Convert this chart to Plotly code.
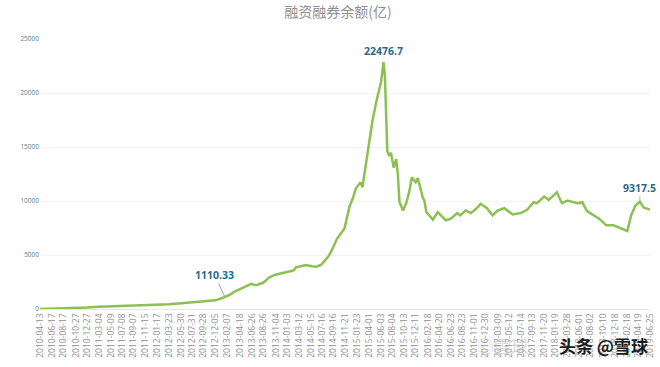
import plotly.graph_objects as go

title_text = "融资融券余额(亿)"

tick_dates = [
    "2010-04-13", "2010-06-17", "2010-08-17", "2010-10-27", "2010-12-27",
    "2011-03-04", "2011-05-09", "2011-07-08", "2011-09-07", "2011-11-15",
    "2012-01-17", "2012-03-23", "2012-05-30", "2012-07-31", "2012-09-28",
    "2012-12-05", "2013-02-07", "2013-04-18", "2013-06-26", "2013-08-26",
    "2013-11-04", "2014-01-03", "2014-03-12", "2014-05-15", "2014-07-16",
    "2014-09-16", "2014-11-21", "2015-01-23", "2015-04-01", "2015-06-03",
    "2015-08-04", "2015-10-13", "2015-12-11", "2016-02-18", "2016-04-20",
    "2016-06-23", "2016-08-23", "2016-11-01", "2016-12-30", "2017-03-09",
    "2017-05-12", "2017-07-14", "2017-09-13", "2017-11-20", "2018-01-19",
    "2018-03-28", "2018-06-01", "2018-08-02", "2018-10-10", "2018-12-18",
    "2019-02-18", "2019-04-19", "2019-06-25",
]

y_ticks = [0, 5000, 10000, 15000, 20000, 25000]
y_tick_text = ["0", "5000", "10000", "15000", "20000", "25000"]

dates = [
    "2010-04-13", "2010-06-17", "2010-08-17", "2010-10-27", "2010-12-27",
    "2011-03-04", "2011-05-09", "2011-07-08", "2011-09-07", "2011-11-15",
    "2012-01-17", "2012-03-23", "2012-05-30", "2012-07-31", "2012-09-28",
    "2012-12-05", "2013-01-25", "2013-02-20", "2013-03-20", "2013-04-18",
    "2013-05-20", "2013-06-20", "2013-07-08", "2013-07-25", "2013-08-26",
    "2013-09-25", "2013-10-25", "2013-12-25", "2014-01-20", "2014-02-10",
    "2014-02-20", "2014-03-25", "2014-04-15", "2014-05-20", "2014-06-15",
    "2014-07-10", "2014-07-30", "2014-08-20", "2014-09-05", "2014-10-05",
    "2014-11-15", "2014-12-12", "2014-12-31", "2015-01-16", "2015-01-28",
    "2015-02-12", "2015-02-22", "2015-03-08", "2015-04-01", "2015-04-18",
    "2015-05-10", "2015-06-05", "2015-06-18", "2015-06-26", "2015-07-09",
    "2015-07-19", "2015-07-29", "2015-08-13", "2015-08-27", "2015-09-05",
    "2015-09-14", "2015-10-04", "2015-10-23", "2015-11-08", "2015-11-21",
    "2015-12-12", "2015-12-24", "2016-01-20", "2016-01-29", "2016-02-09",
    "2016-02-18", "2016-03-16", "2016-04-12", "2016-05-27", "2016-06-23",
    "2016-07-28", "2016-08-15", "2016-09-12", "2016-10-12", "2016-11-09",
    "2016-12-04", "2017-01-08", "2017-02-08", "2017-03-09", "2017-04-14",
    "2017-05-30", "2017-07-13", "2017-08-17", "2017-09-22", "2017-10-11",
    "2017-11-19", "2017-12-14", "2018-01-28", "2018-02-25", "2018-03-27",
    "2018-05-22", "2018-06-17", "2018-07-13", "2018-09-18", "2018-10-27",
    "2018-12-06", "2019-02-06", "2019-02-20", "2019-03-13", "2019-04-06",
    "2019-04-30", "2019-05-22", "2019-06-21", "2019-06-25",
]

balance = [
    10, 30, 60, 90, 130,
    200, 240, 280, 320, 340,
    380, 450, 540, 640, 700,
    800, 1110, 1300, 1600, 1850,
    2050, 2330, 2230, 2250, 2450,
    2900, 3150, 3350, 3500, 3600,
    3860, 3980, 4070, 3950, 3920,
    4100, 4450, 4900, 5400, 6500,
    7450, 9430, 10250, 11120, 11420,
    11730, 11270, 12800, 15250, 17400,
    19240, 21070, 22850, 21500, 14640,
    14180, 14480, 13100, 13880, 12500,
    9890, 9125, 9890, 10960, 12190,
    11730, 12130, 10350, 10040, 8970,
    8820, 8270, 8970, 8210, 8360,
    8880, 8670, 9125, 8880, 9280,
    9740, 9340, 8670, 9125, 9340,
    8760, 8880, 9190, 9890, 9800,
    10410, 10110, 10810, 9800, 10040,
    9800, 9890, 9060, 8360, 7750,
    7750, 7290, 7220, 8670, 9585,
    9950, 9390, 9230, 9200,
]

# annotated points: (index in series, label text)
label_points = [(52, "22476.7"), (16, "1110.33"), (105, "9317.5")]

watermark_text = "头条 @雪球"
logo_text = "◎雪球"

fig = go.Figure()
fig.add_trace(go.Scatter(
    x=dates, y=balance, mode="lines",
    line=dict(color="#8cc152", width=2.5),
    hoverinfo="x+y", showlegend=False,
))

ann_font = dict(family="Open Sans, Noto Sans, sans-serif", size=10.5, color="#2b6a8c")
i, t = label_points[0]
fig.add_annotation(x=dates[i], y=balance[i], text="<b>%s</b>" % t, showarrow=False,
                   yanchor="bottom", yshift=2, font=ann_font)
i, t = label_points[1]
fig.add_annotation(x=dates[i], y=balance[i], text="<b>%s</b>" % t, showarrow=True,
                   arrowhead=0, arrowwidth=1, arrowcolor="#a0a0a0",
                   ax=-10, ay=-22, font=ann_font)
i, t = label_points[2]
fig.add_annotation(x=dates[i], y=balance[i], text="<b>%s</b>" % t, showarrow=True,
                   arrowhead=0, arrowwidth=1, arrowcolor="#b8b8b8",
                   ax=0, ay=-14, font=ann_font)

# watermark overlay
fig.add_annotation(xref="paper", yref="paper", x=(650 - 40) / 610, y=-(345 - 309) / 270,
                   yanchor="middle",
                   text="<b>%s</b>" % watermark_text, showarrow=False,
                   font=dict(family="Noto Sans CJK SC", size=17, color="#1a1a1a"))
fig.add_annotation(xref="paper", yref="paper", x=(530 - 40) / 610, y=-(345 - 309) / 270,
                   yanchor="middle",
                   text=logo_text, showarrow=False,
                   font=dict(family="Noto Sans CJK SC", size=17, color="rgba(185,185,185,0.6)"))

fig.update_layout(
    width=660, height=367,
    margin=dict(l=40, r=10, t=39, b=58),
    paper_bgcolor="white", plot_bgcolor="white",
    title=dict(text=title_text, x=0.512, xanchor="center", y=0.98, yanchor="top",
               pad=dict(t=0, b=0),
               font=dict(family="Noto Sans CJK SC", size=14, color="#8f8f8f")),
    xaxis=dict(
        type="date", automargin=False,
        range=[tick_dates[0], tick_dates[-1]],
        tickvals=tick_dates, ticktext=tick_dates,
        tickangle=-90,
        tickfont=dict(family="Open Sans, sans-serif", size=8.5, color="#8f8f8f"),
        showgrid=False, showline=True, linecolor="#e6e6e6", linewidth=1,
        ticks="", zeroline=False,
    ),
    yaxis=dict(
        automargin=False,
        range=[0, 25000],
        tickvals=y_ticks, ticktext=y_tick_text,
        tickfont=dict(family="Open Sans, sans-serif", size=6.5, color="#4f7f8f"),
        showgrid=True, gridcolor="#f3f3f3", gridwidth=1,
        zeroline=False, showline=False, ticks="",
    ),
)

fig.write_html("out.html", config={"displayModeBar": False},
               post_script="document.body.style.margin='0';")
